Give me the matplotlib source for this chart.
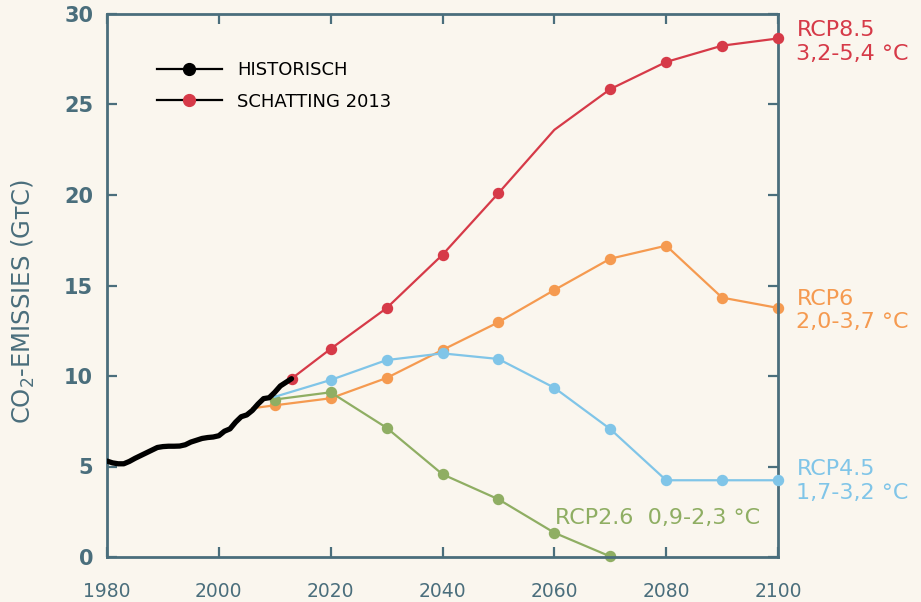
import matplotlib
matplotlib.use("Agg")
import matplotlib.pyplot as plt
from matplotlib.lines import Line2D

# ---------------- data ----------------
hist_years = list(range(1980, 2014))
hist_vals = [5.30, 5.20, 5.15, 5.15, 5.28, 5.45, 5.60, 5.75, 5.90, 6.05,
             6.10, 6.12, 6.12, 6.13, 6.20, 6.35, 6.45, 6.55, 6.60, 6.63,
             6.70, 6.95, 7.08, 7.45, 7.75, 7.85, 8.10, 8.45, 8.75, 8.80,
             9.10, 9.45, 9.65, 9.85]

rcp85_years = [2013, 2020, 2030, 2040, 2050, 2060, 2070, 2080, 2090, 2100]
rcp85_vals = [9.85, 11.5, 13.75, 16.7, 20.1, 23.6, 25.85, 27.35, 28.25, 28.65]
rcp85_marks = [0, 1, 2, 3, 4, 6, 7, 8, 9]

rcp6_years = [2006, 2010, 2020, 2030, 2040, 2050, 2060, 2070, 2080, 2090, 2100]
rcp6_vals = [8.22, 8.38, 8.77, 9.89, 11.44, 12.97, 14.75, 16.48, 17.2, 14.33, 13.76]
rcp6_marks = [1, 2, 3, 4, 5, 6, 7, 8, 9, 10]

rcp45_years = [2010, 2020, 2030, 2040, 2050, 2060, 2070, 2080, 2090, 2100]
rcp45_vals = [8.85, 9.78, 10.88, 11.25, 10.94, 9.35, 7.07, 4.24, 4.24, 4.24]
rcp45_marks = [1, 2, 3, 4, 5, 6, 7, 8, 9]

rcp26_years = [2010, 2020, 2030, 2040, 2050, 2060, 2070]
rcp26_vals = [8.70, 9.10, 7.14, 4.57, 3.19, 1.34, 0.03]
rcp26_marks = [0, 1, 2, 3, 4, 5, 6]

x_ticks = [1980, 2000, 2020, 2040, 2060, 2080, 2100]
y_ticks = [0, 5, 10, 15, 20, 25, 30]

legend_labels = ["HISTORISCH", "SCHATTING 2013"]
label_85 = "RCP8.5\n3,2-5,4 °C"
label_6 = "RCP6\n2,0-3,7 °C"
label_45 = "RCP4.5\n1,7-3,2 °C"
label_26 = "RCP2.6  0,9-2,3 °C"
y_label = "CO$_2$-EMISSIES (GᴛC)"

# ---------------- style ----------------
BG = "#faf6ee"
AX = "#4a6e7c"
RED = "#d63a48"
ORANGE = "#f59a50"
BLUE = "#80c5e8"
GREEN = "#8fae63"

plt.rcParams["font.family"] = ["DejaVu Sans"]

fig = plt.figure(figsize=(9.21, 6.02), dpi=100, facecolor=BG)
ax = fig.add_axes([107/921, 1-557/602, (778-107)/921, (557-14)/602])
ax.set_facecolor(BG)

lw = 1.6
ms = 7.2
ax.plot(rcp6_years, rcp6_vals, color=ORANGE, lw=lw, marker="o", ms=ms,
        markevery=rcp6_marks, zorder=2, clip_on=False)
ax.plot(rcp45_years, rcp45_vals, color=BLUE, lw=lw, marker="o", ms=ms,
        markevery=rcp45_marks, zorder=3, clip_on=False)
ax.plot(rcp26_years, rcp26_vals, color=GREEN, lw=lw, marker="o", ms=ms,
        markevery=rcp26_marks, zorder=2.5, clip_on=False)
ax.plot(rcp85_years, rcp85_vals, color=RED, lw=lw, marker="o", ms=ms,
        markevery=rcp85_marks, zorder=4, clip_on=False)
ax.plot(hist_years, hist_vals, color="black", lw=3.8, solid_capstyle="round",
        solid_joinstyle="round", zorder=5)

ax.set_xlim(1980, 2100)
ax.set_ylim(0, 30)

for s in ax.spines.values():
    s.set_color(AX)
    s.set_linewidth(2)

ax.set_xticks(x_ticks)
ax.set_yticks(y_ticks)
ax.tick_params(axis="both", direction="in", length=7, width=1.6, color=AX,
               top=True, right=True)
ax.tick_params(axis="x", labelsize=13.5, labelcolor=AX, pad=18)
ax.tick_params(axis="y", labelsize=15, labelcolor=AX, pad=10)
for t in ax.get_yticklabels():
    t.set_fontweight("semibold")

ax.set_ylabel(y_label, fontsize=17.5, color=AX)
ax.yaxis.set_label_coords(-0.104, 0.47)

# legend
handles = [Line2D([0], [0], color="black", lw=1.6, marker="o", ms=8.5),
           Line2D([0], [0], color="black", lw=1.6, marker="o", ms=8.5,
                  markerfacecolor=RED, markeredgecolor=RED)]
leg = ax.legend(handles, legend_labels, loc="upper left",
                bbox_to_anchor=(0.0745, 0.913), frameon=False, fontsize=13,
                handlelength=3.6, handletextpad=0.85, labelspacing=0.75,
                borderpad=0, borderaxespad=0)

# right-side labels
kw = dict(fontsize=16, va="center", ha="left", linespacing=1.2, clip_on=False)
ax.text(2103.3, 28.45, label_85, color=RED, **kw)
ax.text(2103.3, 13.6, label_6, color=ORANGE, **kw)
ax.text(2103.3, 4.2, label_45, color=BLUE, **kw)
ax.text(2060.2, 2.15, label_26, color=GREEN, fontsize=16, va="center",
        ha="left", clip_on=False)

fig.savefig("out.png", dpi=100, facecolor=BG)
